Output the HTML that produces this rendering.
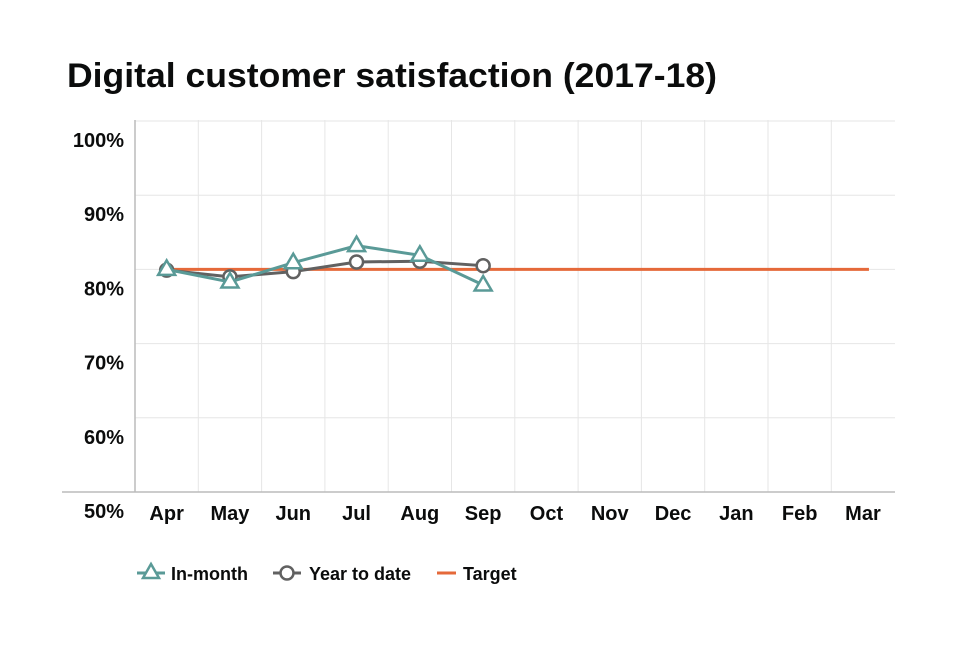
<!DOCTYPE html>
<html><head><meta charset="utf-8"><style>
body{margin:0;background:#fff;font-family:"Liberation Sans",sans-serif;}
svg text{font-family:"Liberation Sans",sans-serif;font-weight:bold;fill:#0b0c0c;}
</style></head><body>
<svg id="c" width="960" height="640">
<text x="67" y="87" font-size="34" textLength="650" lengthAdjust="spacingAndGlyphs">Digital customer satisfaction (2017-18)</text>
<g id="grid"></g><g id="marks"></g>
<g>
<g>
<line x1="137" y1="573" x2="165" y2="573" stroke="#5a9a97" stroke-width="3"/>
<polygon points="151,564 159,578 143,578" fill="#fff" stroke="#5a9a97" stroke-width="2.5"/>
<text x="171" y="580" font-size="18">In-month</text></g>
<g>
<line x1="273" y1="573" x2="301" y2="573" stroke="#616161" stroke-width="3"/>
<circle cx="287" cy="573" r="6.5" fill="#fff" stroke="#616161" stroke-width="2.5"/>
<text x="309" y="580" font-size="18">Year to date</text></g>
<g>
<line x1="437" y1="573" x2="456" y2="573" stroke="#e5693a" stroke-width="3"/>
<text x="463" y="580" font-size="18">Target</text></g>
</g>
</svg>
<script>
const categories=["Apr","May","Jun","Jul","Aug","Sep","Oct","Nov","Dec","Jan","Feb","Mar"];
const inMonth=[80.0,78.3,80.9,83.2,81.9,77.9];
const yearToDate=[79.9,79.0,79.7,81.0,81.1,80.5];
const target=[80,80,80,80,80,80,80,80,80,80,80,80];
const yTicks=[50,60,70,80,90,100];
const NS="http://www.w3.org/2000/svg";
const x0=135,step=63.3,yBase=492,yPer=7.42;
const xs=i=>x0+step*(i+0.5);
const ys=v=>yBase-(v-50)*yPer;
const grid=document.getElementById('grid'),marks=document.getElementById('marks');
function mk(tag,a,p){const e=document.createElementNS(NS,tag);for(const k in a)e.setAttribute(k,a[k]);p.appendChild(e);return e;}
yTicks.forEach(t=>{
 if(t>50){const l=mk('line',{x1:x0,x2:895,y1:ys(t),y2:ys(t),stroke:'#e6e6e6','stroke-width':1},grid);
 
 }
 const tx=mk('text',{x:124,y:ys(t)+26,'font-size':20,'text-anchor':'end'},grid);tx.textContent=t+'%';
 
 
});
categories.forEach((c,i)=>{
 if(i<11){const l=mk('line',{x1:x0+step*(i+1),x2:x0+step*(i+1),y1:120,y2:492,stroke:'#e6e6e6','stroke-width':1},grid);
 
 }
 const tx=mk('text',{x:xs(i),y:520,'font-size':20,'text-anchor':'middle'},grid);tx.textContent=c;
 
 
});
const ax=mk('line',{x1:x0,x2:x0,y1:120,y2:492,stroke:'#bbb','stroke-width':1.5},grid);


const bx=mk('line',{x1:62,x2:895,y1:492,y2:492,stroke:'#bbb','stroke-width':1.5},grid);


function line(vals,color,name,ext){const pts=vals.map((v,i)=>xs(i)+','+ys(v));
 if(ext){pts[0]=(xs(0)-6)+','+ys(vals[0]);pts[pts.length-1]=(xs(vals.length-1)+6)+','+ys(vals[vals.length-1]);}
 const p=mk('polyline',{points:pts.join(' '),fill:'none',stroke:color,'stroke-width':3},marks);
 
 }
line(target,'#e5693a','target-line',true);
line(yearToDate,'#616161','year-to-date-line');
yearToDate.forEach((v,i)=>{const c=mk('circle',{cx:xs(i),cy:ys(v),r:6.5,fill:'#fff',stroke:'#616161','stroke-width':2.5},marks);
 
 });
line(inMonth,'#5a9a97','in-month-line');
inMonth.forEach((v,i)=>{const x=xs(i),y=ys(v);const p=mk('polygon',{points:`${x},${y-9} ${x+8.5},${y+5.5} ${x-8.5},${y+5.5}`,fill:'#fff',stroke:'#5a9a97','stroke-width':2.5},marks);
 
 });
</script>
</body></html>
